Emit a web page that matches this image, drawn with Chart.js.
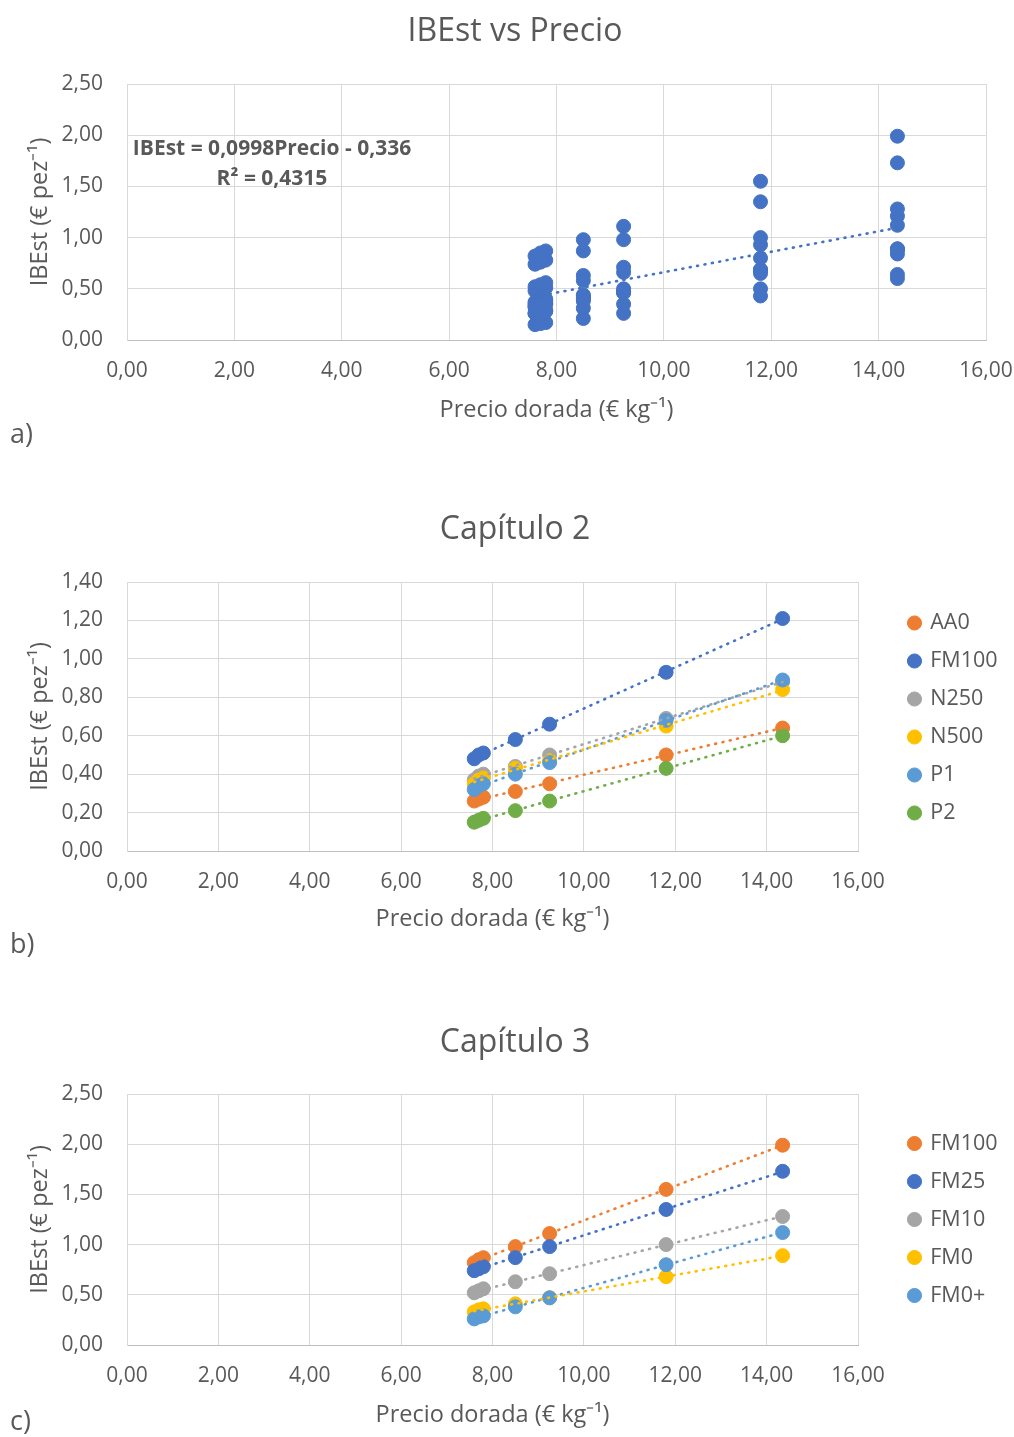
<!DOCTYPE html>
<html lang="es">
<head>
<meta charset="UTF-8">
<title>IBEst vs Precio</title>
<script src="https://cdn.jsdelivr.net/npm/chart.js"></script>
<style>
  body { margin: 0; background: #fff; font-family: "Open Sans", sans-serif; }
  #pagina { position: relative; width: 1014px; height: 1437px; }
  canvas { position: absolute; left: 0; }
  .letra { position: absolute; left: 10px; font-size: 27px; line-height: 34px; color: #595959; }
</style>
</head>
<body>
<div id="pagina">
  <canvas id="chartA" width="1014" height="440" style="top:0"></canvas>
  <div class="letra" style="top:416px">a)</div>
  <canvas id="chartB" width="1014" height="470" style="top:480px"></canvas>
  <div class="letra" style="top:926px">b)</div>
  <canvas id="chartC" width="1014" height="447" style="top:990px"></canvas>
  <div class="letra" style="top:1403px">c)</div>
</div>
<script>
// precio dorada (€/kg), común a todas las series
const precios = [7.6, 7.7, 7.8, 8.5, 9.25, 11.8, 14.35];

// Capítulo 2
const nombresCap2 = ["AA0", "FM100", "N250", "N500", "P1", "P2"];
const aa0     = [0.26, 0.27, 0.28, 0.31, 0.35, 0.50, 0.64];
const fm100c2 = [0.48, 0.50, 0.51, 0.58, 0.66, 0.93, 1.21];
const n250    = [0.37, 0.39, 0.40, 0.44, 0.50, 0.69, 0.88];
const n500    = [0.35, 0.37, 0.38, 0.43, 0.47, 0.65, 0.84];
const p1      = [0.32, 0.34, 0.35, 0.40, 0.46, 0.68, 0.89];
const p2      = [0.15, 0.16, 0.17, 0.21, 0.26, 0.43, 0.60];
const coloresCap2 = ["#ED7D31", "#4472C4", "#A5A5A5", "#FFC000", "#5B9BD5", "#70AD47"];

// Capítulo 3
const nombresCap3 = ["FM100", "FM25", "FM10", "FM0", "FM0+"];
const fm100c3 = [0.82, 0.85, 0.87, 0.98, 1.11, 1.55, 1.99];
const fm25    = [0.74, 0.76, 0.78, 0.87, 0.98, 1.35, 1.73];
const fm10    = [0.52, 0.54, 0.56, 0.63, 0.71, 1.00, 1.28];
const fm0     = [0.33, 0.35, 0.36, 0.41, 0.47, 0.68, 0.89];
const fm0mas  = [0.26, 0.28, 0.29, 0.38, 0.47, 0.80, 1.12];
const coloresCap3 = ["#ED7D31", "#4472C4", "#A5A5A5", "#FFC000", "#5B9BD5"];

// ecuación de la tendencia de a) (pendiente, intercepto)
const ecuacionA = [0.0998, -0.336];

const GRIS_TEXTO = "#595959";
const GRID = "#D9D9D9";
Chart.defaults.font.family = '"Open Sans", sans-serif';
Chart.defaults.color = GRIS_TEXTO;

const coma = v => v.toFixed(2).replace(".", ",");

function ajusteLineal(xs, ys) {
    const n = xs.length;
    const mx = xs.reduce((a, b) => a + b, 0) / n;
    const my = ys.reduce((a, b) => a + b, 0) / n;
    let sxy = 0, sxx = 0;
    for (let i = 0; i < n; i++) {
        sxy += (xs[i] - mx) * (ys[i] - my);
        sxx += (xs[i] - mx) * (xs[i] - mx);
    }
    const m = sxy / sxx;
    return [m, my - m * mx];
}

function puntos(ys) {
    return ys.map((y, i) => ({ x: precios[i], y: y }));
}

function tendencia(coef, color) {
    const x0 = Math.min(...precios), x1 = Math.max(...precios);
    return {
        tendencia: true,
        data: [{ x: x0, y: coef[0] * x0 + coef[1] }, { x: x1, y: coef[0] * x1 + coef[1] }],
        showLine: true,
        borderColor: color,
        borderWidth: 2.6,
        borderDash: [1, 6.5],
        borderCapStyle: "round",
        pointRadius: 0,
        order: 0
    };
}

function serie(nombre, ys, color, orden) {
    return {
        label: nombre,
        data: puntos(ys),
        backgroundColor: color,
        borderColor: color,
        pointRadius: 7,
        pointBorderWidth: 1,
        pointHoverRadius: 7,
        order: orden
    };
}

// centra el título en x = 515 como en el original
const centrarTitulo = {
    id: "centrarTitulo",
    afterLayout(chart) {
        const t = chart.titleBlock;
        if (!t) return;
        const w = t.right - t.left;
        t.left = 515 - w / 2;
        t.right = t.left + w;
    }
};

// fija el ancho de la leyenda y la desplaza
const ajusteLeyenda = {
    id: "ajusteLeyenda",
    beforeLayout(chart, args, opts) {
        const lg = chart.legend;
        if (!lg || lg._ajustada) return;
        const fitOriginal = lg.fit;
        lg.fit = function () { fitOriginal.call(this); this.width = opts.ancho; };
        lg._ajustada = true;
    },
    afterLayout(chart, args, opts) {
        const lg = chart.legend;
        if (!lg) return;
        lg.left += opts.dx;
        lg.right += opts.dx;
        lg.top += opts.dy;
        lg.bottom += opts.dy;
    }
};

const textoEcuacion = {
    id: "textoEcuacion",
    afterDatasetsDraw(chart, args, opts) {
        if (!opts.lineas) return;
        const ctx = chart.ctx;
        ctx.save();
        ctx.font = 'bold 21px "Open Sans", sans-serif';
        ctx.fillStyle = GRIS_TEXTO;
        ctx.textAlign = "center";
        ctx.textBaseline = "middle";
        opts.lineas.forEach((t, i) => ctx.fillText(t, opts.x, opts.y + i * 30));
        ctx.restore();
    }
};

function opciones(p) {
    return {
        responsive: false,
        animation: false,
        layout: { padding: { left: 0, right: p.padDer, top: 0, bottom: 0 } },
        plugins: {
            title: {
                display: true,
                text: p.titulo,
                font: { size: 32, weight: "normal" },
                color: GRIS_TEXTO,
                padding: { top: p.tituloArriba, bottom: p.tituloAbajo }
            },
            legend: p.leyenda ? {
                display: true,
                position: "right",
                labels: {
                    usePointStyle: true,
                    boxWidth: 10,
                    boxHeight: 10,
                    padding: 16.5,
                    font: { size: 21.5 },
                    color: GRIS_TEXTO,
                    filter: (item, data) => !data.datasets[item.datasetIndex].tendencia,
                    sort: (a, b) => a.datasetIndex - b.datasetIndex
                }
            } : { display: false },
            tooltip: { enabled: false },
            ajusteLeyenda: { ancho: 156, dx: 35, dy: p.leyendaDy || 0 },
            textoEcuacion: p.ecuacion || {}
        },
        scales: {
            x: {
                type: "linear",
                min: 0,
                max: 16,
                ticks: { stepSize: 2, padding: 18, font: { size: 21 }, color: GRIS_TEXTO, callback: v => coma(v) },
                grid: { color: GRID, drawTicks: false },
                border: { color: "#BFBFBF" },
                title: {
                    display: true,
                    text: "Precio dorada (€ kg⁻¹)",
                    font: { size: 23.5 },
                    color: GRIS_TEXTO,
                    padding: { top: 0, bottom: p.xTituloAbajo }
                },
                afterFit: s => { s.height = p.altoX; s.paddingLeft = 0; s.paddingRight = 0; }
            },
            y: {
                min: 0,
                max: p.yMax,
                ticks: { stepSize: p.yPaso, padding: 24, font: { size: 21 }, color: GRIS_TEXTO, callback: v => coma(v) },
                grid: { color: GRID, drawTicks: false },
                border: { color: GRID },
                title: {
                    display: true,
                    text: "IBEst (€ pez⁻¹)",
                    font: { size: 23.5 },
                    color: GRIS_TEXTO,
                    padding: { top: 26, bottom: 0 }
                },
                afterFit: s => { s.width = 127; s.paddingTop = 0; s.paddingBottom = 0; }
            }
        }
    };
}

// a) todos los puntos juntos
const todasSeries = [aa0, fm100c2, n250, n500, p1, p2, fm100c3, fm25, fm10, fm0, fm0mas];
const puntosA = [];
todasSeries.forEach(ys => ys.forEach((y, i) => puntosA.push({ x: precios[i], y: y })));

new Chart(document.getElementById("chartA"), {
    type: "scatter",
    data: {
        datasets: [
            tendencia(ecuacionA, "#4472C4"),
            { label: "IBEst", data: puntosA, backgroundColor: "#4472C4", borderColor: "#4472C4",
              pointRadius: 7, pointBorderWidth: 1, pointHoverRadius: 7, order: 1 }
        ]
    },
    options: opciones({
        titulo: "IBEst vs Precio", padDer: 28, tituloArriba: 13, tituloAbajo: 32.6,
        altoX: 100, xTituloAbajo: 16, yMax: 2.5, yPaso: 0.5, leyenda: false,
        ecuacion: { lineas: ["IBEst = 0,0998Precio - 0,336", "R² = 0,4315"], x: 272, y: 149 }
    }),
    plugins: [textoEcuacion, centrarTitulo]
});

function graficoCapitulo(id, titulo, nombres, valores, colores, p) {
    const datasets = [];
    const n = nombres.length;
    nombres.forEach((nom, i) => datasets.push(serie(nom, valores[i], colores[i], n - i + 1)));
    valores.forEach((ys, i) => datasets.push(tendencia(ajusteLineal(precios, ys), colores[i])));
    new Chart(document.getElementById(id), {
        type: "scatter",
        data: { datasets: datasets },
        options: opciones(Object.assign({ titulo: titulo, padDer: 0, leyenda: true }, p)),
        plugins: [ajusteLeyenda, centrarTitulo]
    });
}

graficoCapitulo("chartB", "Capítulo 2", nombresCap2, [aa0, fm100c2, n250, n500, p1, p2], coloresCap2,
    { tituloArriba: 31, tituloAbajo: 32.6, altoX: 99, xTituloAbajo: 17, yMax: 1.4, yPaso: 0.2, leyendaDy: 3 });

graficoCapitulo("chartC", "Capítulo 3", nombresCap3, [fm100c3, fm25, fm10, fm0, fm0mas], coloresCap3,
    { tituloArriba: 34, tituloAbajo: 31.6, altoX: 92, xTituloAbajo: 8, yMax: 2.5, yPaso: 0.5, leyendaDy: 6 });
</script>
</body>
</html>
